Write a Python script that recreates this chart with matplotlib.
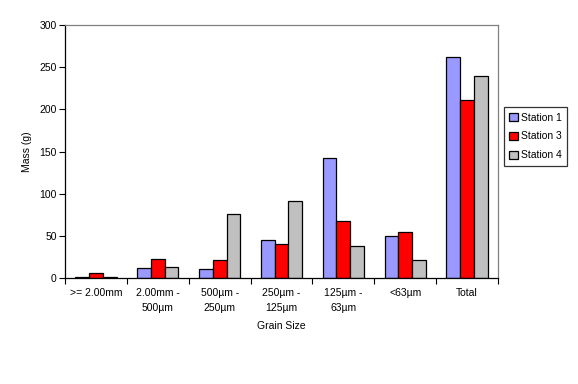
import matplotlib.pyplot as plt
import numpy as np

plt.rcParams['font.family'] = ['Liberation Sans', 'DejaVu Sans']

categories = ['>= 2.00mm', '2.00mm -\n500µm', '500µm -\n250µm', '250µm -\n125µm',
              '125µm -\n63µm', '<63µm', 'Total']
station1 = [1, 11.5, 10.3, 45, 142, 49.4, 261.8]
station3 = [5.5, 22, 21, 40, 67.6, 54.2, 211]
station4 = [1, 12.7, 75.5, 91, 37.6, 21, 239]
series = ['Station 1', 'Station 3', 'Station 4']
colors = ['#9999FF', '#FF0000', '#C0C0C0']

fig = plt.figure(figsize=(5.78, 3.84), dpi=100)
ax = fig.add_axes([65 / 578, 1 - 278 / 384, 433 / 578, 253 / 384])

n = len(categories)
x = np.arange(n) + 0.5
w = 1 / 4.5
for k, (vals, lab, col) in enumerate(zip([station1, station3, station4], series, colors)):
    ax.bar(x + (k - 1) * w, vals, w, color=col, edgecolor='black', linewidth=0.9,
           label=lab, zorder=2)

ax.set_xlim(0, n)
ax.set_ylim(0, 300)
ax.set_yticks(range(0, 301, 50))
ax.set_xticks(range(n + 1))
ax.set_xticklabels([])
ax.set_xticks(x, minor=True)
ax.set_xticklabels(categories, minor=True, fontsize=7.5, linespacing=1.6)
ax.tick_params(axis='x', which='major', direction='out', length=4, width=0.8)
ax.tick_params(axis='x', which='minor', length=0, pad=7)
ax.tick_params(axis='y', direction='out', length=4, width=0.8, labelsize=7.5, pad=2)

for s in ['top', 'right']:
    ax.spines[s].set_color('#808080')
    ax.spines[s].set_linewidth(0.9)
for s in ['left', 'bottom']:
    ax.spines[s].set_color('black')
    ax.spines[s].set_linewidth(0.9)

ax.set_xlabel('Grain Size', fontsize=7.5, labelpad=6)
ax.set_ylabel('Mass (g)', fontsize=7.5, labelpad=5)

leg = ax.legend(loc='center left', bbox_to_anchor=(504 / 578, 1 - 136.5 / 384),
                bbox_transform=fig.transFigure, fontsize=7.5, frameon=True,
                fancybox=False, edgecolor='black', handlelength=0.8, handleheight=0.8,
                handletextpad=0.3, borderpad=0.5, labelspacing=0.85, borderaxespad=0)
leg.get_frame().set_linewidth(0.9)

fig.savefig('out.png', dpi=100)
